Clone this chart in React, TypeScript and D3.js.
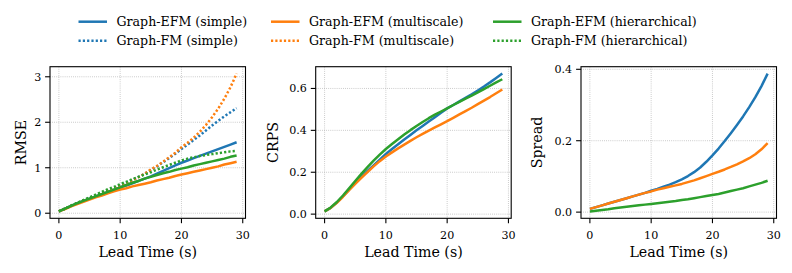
import React from "react";
import * as d3 from "d3";

const leadTimes = d3.range(0, 30);

const rmseEfmSimple = [0.04, 0.10, 0.16, 0.22, 0.27, 0.32, 0.37, 0.42, 0.47, 0.52, 0.57, 0.61, 0.66, 0.71, 0.76, 0.81, 0.87, 0.93, 0.99, 1.05, 1.11, 1.16, 1.21, 1.26, 1.31, 1.36, 1.41, 1.46, 1.51, 1.56];
const rmseFmSimple = [0.04, 0.10, 0.16, 0.22, 0.28, 0.34, 0.39, 0.45, 0.50, 0.55, 0.61, 0.67, 0.73, 0.80, 0.87, 0.95, 1.03, 1.12, 1.21, 1.31, 1.41, 1.51, 1.61, 1.71, 1.82, 1.93, 2.03, 2.13, 2.22, 2.31];
const rmseEfmMulti = [0.04, 0.09, 0.15, 0.20, 0.25, 0.30, 0.35, 0.39, 0.44, 0.48, 0.52, 0.55, 0.59, 0.62, 0.65, 0.68, 0.72, 0.75, 0.78, 0.82, 0.85, 0.88, 0.91, 0.94, 0.97, 1.00, 1.03, 1.07, 1.10, 1.13];
const rmseFmMulti = [0.04, 0.10, 0.16, 0.22, 0.28, 0.33, 0.38, 0.44, 0.49, 0.55, 0.60, 0.66, 0.72, 0.79, 0.87, 0.96, 1.04, 1.13, 1.23, 1.33, 1.45, 1.55, 1.66, 1.79, 1.94, 2.11, 2.30, 2.52, 2.77, 3.07];
const rmseEfmHier = [0.04, 0.10, 0.16, 0.22, 0.27, 0.32, 0.37, 0.42, 0.47, 0.52, 0.57, 0.62, 0.67, 0.71, 0.76, 0.80, 0.84, 0.88, 0.91, 0.95, 0.98, 1.01, 1.05, 1.08, 1.11, 1.14, 1.17, 1.20, 1.24, 1.27];
const rmseFmHier = [0.04, 0.10, 0.17, 0.23, 0.29, 0.35, 0.41, 0.47, 0.53, 0.58, 0.64, 0.69, 0.75, 0.80, 0.85, 0.90, 0.96, 1.01, 1.06, 1.11, 1.16, 1.20, 1.23, 1.26, 1.28, 1.30, 1.32, 1.34, 1.36, 1.37];

const crpsSimple = [0.013, 0.030, 0.055, 0.085, 0.117, 0.148, 0.178, 0.206, 0.233, 0.260, 0.287, 0.311, 0.334, 0.356, 0.378, 0.400, 0.421, 0.442, 0.463, 0.484, 0.505, 0.521, 0.538, 0.555, 0.572, 0.590, 0.609, 0.629, 0.650, 0.671];
const crpsMulti = [0.013, 0.030, 0.054, 0.083, 0.114, 0.144, 0.173, 0.201, 0.228, 0.253, 0.275, 0.295, 0.314, 0.332, 0.350, 0.367, 0.383, 0.399, 0.414, 0.429, 0.444, 0.460, 0.476, 0.492, 0.508, 0.525, 0.542, 0.559, 0.577, 0.595];
const crpsHier = [0.013, 0.032, 0.058, 0.089, 0.123, 0.158, 0.192, 0.224, 0.255, 0.284, 0.311, 0.335, 0.358, 0.380, 0.401, 0.421, 0.440, 0.458, 0.475, 0.490, 0.505, 0.521, 0.536, 0.551, 0.566, 0.581, 0.597, 0.613, 0.629, 0.644];

const spreadSimple = [0.009, 0.014, 0.019, 0.024, 0.029, 0.034, 0.039, 0.044, 0.049, 0.054, 0.060, 0.065, 0.071, 0.077, 0.084, 0.092, 0.101, 0.112, 0.125, 0.141, 0.159, 0.178, 0.199, 0.221, 0.244, 0.268, 0.294, 0.322, 0.353, 0.388];
const spreadMulti = [0.009, 0.014, 0.019, 0.024, 0.029, 0.034, 0.039, 0.044, 0.049, 0.054, 0.058, 0.063, 0.067, 0.071, 0.075, 0.079, 0.084, 0.089, 0.095, 0.101, 0.107, 0.113, 0.1195, 0.1265, 0.134, 0.142, 0.151, 0.162, 0.176, 0.193];
const spreadHier = [0.002, 0.004, 0.006, 0.008, 0.011, 0.013, 0.015, 0.017, 0.019, 0.021, 0.023, 0.025, 0.027, 0.029, 0.031, 0.034, 0.036, 0.039, 0.042, 0.045, 0.048, 0.051, 0.055, 0.059, 0.063, 0.067, 0.072, 0.077, 0.082, 0.088];

const xTicks = [0, 10, 20, 30];
const rmseTicks = [0, 1, 2, 3];
const crpsTicks = [0, 0.2, 0.4, 0.6];
const spreadTicks = [0, 0.2, 0.4];

const legendLabels = [
  ["Graph-EFM (simple)", "Graph-FM (simple)"],
  ["Graph-EFM (multiscale)", "Graph-FM (multiscale)"],
  ["Graph-EFM (hierarchical)", "Graph-FM (hierarchical)"],
];

const BLUE = "#1f77b4";
const ORANGE = "#ff7f0e";
const GREEN = "#2ca02c";
const colors = [BLUE, ORANGE, GREEN];

const FONT = "'DejaVu Serif', serif";
const LW = 2.5;
const DOT = "2.2 2.1";

type Series = { values: number[]; color: string; dotted: boolean };

const panels: {
  left: number;
  ylabel: string;
  ylabelX: number;
  ticks: number[];
  fmt: (v: number) => string;
  series: Series[];
}[] = [
  {
    left: 50,
    ylabel: "RMSE",
    ylabelX: 25.5,
    ticks: rmseTicks,
    fmt: (v) => d3.format("d")(v),
    series: [
      { values: rmseEfmSimple, color: BLUE, dotted: false },
      { values: rmseFmSimple, color: BLUE, dotted: true },
      { values: rmseEfmMulti, color: ORANGE, dotted: false },
      { values: rmseFmMulti, color: ORANGE, dotted: true },
      { values: rmseEfmHier, color: GREEN, dotted: false },
      { values: rmseFmHier, color: GREEN, dotted: true },
    ],
  },
  {
    left: 315.7,
    ylabel: "CRPS",
    ylabelX: 278,
    ticks: crpsTicks,
    fmt: (v) => d3.format(".1f")(v),
    series: [
      { values: crpsSimple, color: BLUE, dotted: false },
      { values: crpsMulti, color: ORANGE, dotted: false },
      { values: crpsHier, color: GREEN, dotted: false },
    ],
  },
  {
    left: 581,
    ylabel: "Spread",
    ylabelX: 541.5,
    ticks: spreadTicks,
    fmt: (v) => d3.format(".1f")(v),
    series: [
      { values: spreadSimple, color: BLUE, dotted: false },
      { values: spreadMulti, color: ORANGE, dotted: false },
      { values: spreadHier, color: GREEN, dotted: false },
    ],
  },
];

const TOP = 66.7;
const BOTTOM = 218.3;
const WIDTH = 195.5;

function Panel({ p, idx }: { p: (typeof panels)[number]; idx: number }) {
  const all = p.series.flatMap((s) => s.values);
  const lo = d3.min(all) as number;
  const hi = d3.max(all) as number;
  const pad = (hi - lo) * 0.05;
  const x = d3.scaleLinear().domain([-1.45, 30.45]).range([p.left, p.left + WIDTH]);
  const y = d3.scaleLinear().domain([lo - pad, hi + pad]).range([BOTTOM, TOP]);
  const line = d3
    .line<number>()
    .x((_, i) => x(leadTimes[i]))
    .y((d) => y(d));
  const clipId = `clip${idx}`;
  return (
    <g>
      <defs>
        <clipPath id={clipId}>
          <rect x={p.left} y={TOP} width={WIDTH} height={BOTTOM - TOP} />
        </clipPath>
      </defs>
      {xTicks.map((t) => (
        <line key={"gx" + t} x1={x(t)} x2={x(t)} y1={TOP} y2={BOTTOM} stroke="#b0b0b0" strokeWidth={0.8} strokeDasharray="0.8 1.3" />
      ))}
      {p.ticks.map((t) => (
        <line key={"gy" + t} x1={p.left} x2={p.left + WIDTH} y1={y(t)} y2={y(t)} stroke="#b0b0b0" strokeWidth={0.8} strokeDasharray="0.8 1.3" />
      ))}
      <g clipPath={`url(#${clipId})`}>
        {p.series.map((s, i) => (
          <path
            key={i}
            d={line(s.values) || ""}
            fill="none"
            stroke={s.color}
            strokeWidth={LW}
            strokeDasharray={s.dotted ? DOT : undefined}
            strokeLinejoin="round"
          />
        ))}
      </g>
      <rect x={p.left} y={TOP} width={WIDTH} height={BOTTOM - TOP} fill="none" stroke="#000" strokeWidth={1.1} />
      {xTicks.map((t) => (
        <g key={"tx" + t}>
          <line x1={x(t)} x2={x(t)} y1={BOTTOM} y2={BOTTOM + 4.9} stroke="#000" strokeWidth={1.1} />
          <text x={x(t)} y={239} textAnchor="middle" fontSize={11.1} fontFamily={FONT} fill="#000">
            {t}
          </text>
        </g>
      ))}
      {p.ticks.map((t) => (
        <g key={"ty" + t}>
          <line x1={p.left - 4.9} x2={p.left} y1={y(t)} y2={y(t)} stroke="#000" strokeWidth={1.1} />
          <text x={p.left - 8.8} y={y(t) + 4} textAnchor="end" fontSize={11.1} fontFamily={FONT} fill="#000">
            {p.fmt(t)}
          </text>
        </g>
      ))}
      <text x={p.left + WIDTH / 2} y={257} textAnchor="middle" fontSize={14.2} fontFamily={FONT} fill="#000">
        Lead Time (s)
      </text>
      <text
        transform={`translate(${p.ylabelX},${(TOP + BOTTOM) / 2}) rotate(-90)`}
        textAnchor="middle"
        fontSize={14.2}
        fontFamily={FONT}
        fill="#000"
      >
        {p.ylabel}
      </text>
    </g>
  );
}

export default function App() {
  const colStarts = [78.5, 271, 493];
  const rowYs = [21.7, 40.7];
  return (
    <svg
      width={792}
      height={273}
      style={{ position: "absolute", left: 0, top: 0, background: "#fff" }}
      xmlns="http://www.w3.org/2000/svg"
    >
      <rect width={792} height={273} fill="#fff" />
      {legendLabels.map((col, ci) =>
        col.map((lab, ri) => (
          <g key={lab}>
            <line
              x1={colStarts[ci]}
              x2={colStarts[ci] + 28.5}
              y1={rowYs[ri]}
              y2={rowYs[ri]}
              stroke={colors[ci]}
              strokeWidth={LW}
              strokeDasharray={ri === 1 ? DOT : undefined}
            />
            <text x={colStarts[ci] + 38} y={rowYs[ri] + 4.6} fontSize={12.6} fontFamily={FONT} fill="#000">
              {lab}
            </text>
          </g>
        ))
      )}
      {panels.map((p, i) => (
        <Panel key={i} p={p} idx={i} />
      ))}
    </svg>
  );
}
